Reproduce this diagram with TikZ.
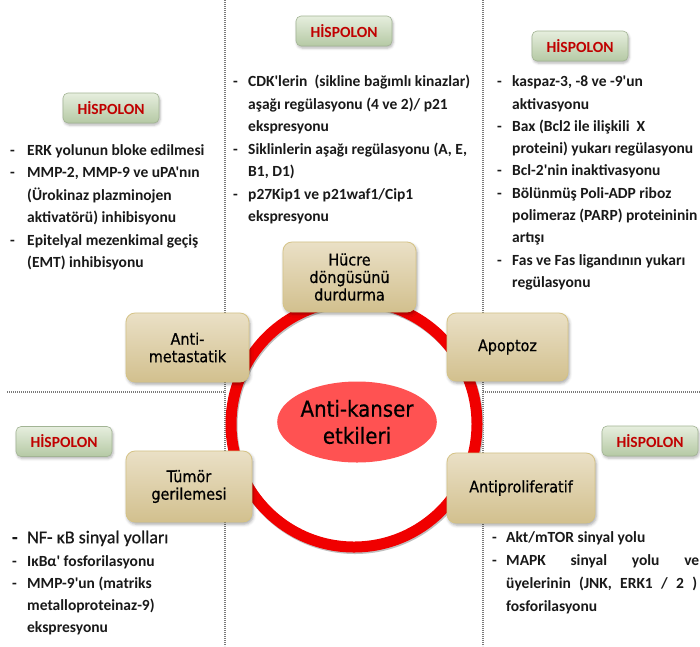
\documentclass[tikz,border=0pt]{standalone}
\usepackage{fontspec}
\setmainfont{Carlito}[Ligatures=TeXOff]
\newfontfamily\boxfont{DejaVu Sans Condensed}[RawFeature={embolden=0.6}]
\newfontfamily\nffont{Carlito}[Ligatures=TeXOff,RawFeature={embolden=0.8}]
\usetikzlibrary{shadows.blur,shapes.geometric}
\definecolor{boxtop}{HTML}{EAE0C6}
\definecolor{boxbot}{HTML}{D2C08E}
\definecolor{boxborder}{HTML}{D5C385}
\definecolor{badgetop}{HTML}{E6EEDE}
\definecolor{badgebot}{HTML}{B5C9A4}
\definecolor{badgeborder}{HTML}{A2B494}
\definecolor{hisred}{HTML}{C00000}
\definecolor{ringred}{HTML}{F00000}
\definecolor{ellred}{HTML}{FF5252}
\definecolor{dotgray}{HTML}{7A7A7A}
\begin{document}
\begin{tikzpicture}[x=1pt,y=-1pt,
  dotline/.style={draw=dotgray,line width=1.1pt,dash pattern=on 1.1pt off 0.9pt},
  effbox/.style={draw=boxborder,line width=0.8pt,top color=boxtop,bottom color=boxbot,
    rounded corners=9pt,align=center,inner sep=2pt,text=black,
    font=\boxfont\fontsize{16}{17.5}\selectfont,
    blur shadow={shadow xshift=1.2pt,shadow yshift=-2.2pt,shadow blur radius=3pt,shadow opacity=35}},
  badge/.style={draw=badgeborder,line width=0.6pt,top color=badgetop,bottom color=badgebot,
    rounded corners=5pt,minimum width=96pt,minimum height=30pt,inner sep=0pt,
    text=hisred,font=\fontsize{15.5}{18}\selectfont\bfseries,
    blur shadow={shadow xshift=1pt,shadow yshift=-2pt,shadow blur radius=2.5pt,shadow opacity=30}},
  lst/.style={anchor=north west,inner sep=0pt,text=black!90}
]
\useasboundingbox (0,0) rectangle (700,646);
% dotted separators
\coordinate (v1t) at (225,0);   \coordinate (v1b) at (225,646);
\coordinate (v2t) at (483,0);   \coordinate (v2b) at (483,646);
\coordinate (h1l) at (7,392);   \coordinate (h1r) at (225,392);
\coordinate (h2l) at (483,392); \coordinate (h2r) at (700,392);
\draw[dotline] (v1t) -- (v1b);
\draw[dotline] (v2t) -- (v2b);
\draw[dotline] (h1l) -- (h1r);
\draw[dotline] (h2l) -- (h2r);
% ring
\draw[black!25,line width=11pt] (355,425.5) circle[radius=123pt];
\draw[ringred,line width=11pt] (354,424) circle[radius=123pt];
% centre ellipse
\node[ellipse,fill=ellred,minimum width=158pt,minimum height=81pt,inner sep=0pt,align=center,
  font=\boxfont\fontsize{22}{27}\selectfont] (center) at (357,422) {Anti-kanser\\etkileri};
% effect boxes
\node[effbox,minimum width=133pt,minimum height=70pt] (hucre) at (349.5,277) {Hücre\\döngüsünü\\durdurma};
\node[effbox,minimum width=121pt,minimum height=68pt] (apop) at (507.5,347) {Apoptoz};
\node[effbox,minimum width=123pt,minimum height=69pt] (antimet) at (187.5,347.5) {Anti-\\metastatik};
\node[effbox,minimum width=126pt,minimum height=71pt] (tumor) at (189,486.5) {Tümör\\gerilemesi};
\node[effbox,minimum width=148pt,minimum height=70pt] (antipro) at (521,488) {Antiproliferatif};
% badges
\node[badge] (h1) at (111,108) {HİSPOLON};
\node[badge] (h2) at (344,31) {HİSPOLON};
\node[badge] (h3) at (580,46) {HİSPOLON};
\node[badge] (h4) at (64,441.5) {HİSPOLON};
\node[badge] (h5) at (650,441) {HİSPOLON};
% lists
\node[lst,font=\fontsize{15.5}{22.5}\selectfont\bfseries] (tl) at (10,139.3) {%
\begin{tabular}{@{}p{17pt}@{}l@{}}
-&ERK yolunun bloke edilmesi\\
-&MMP-2, MMP-9 ve uPA'nın\\
&(Ürokinaz plazminojen\\
&aktivatörü) inhibisyonu\\
-&Epitelyal mezenkimal geçiş\\
&(EMT) inhibisyonu
\end{tabular}};
\node[lst,font=\fontsize{15.5}{22.5}\selectfont\bfseries] (tm) at (233,70.8) {%
\begin{tabular}{@{}p{15pt}@{}l@{}}
-&CDK'lerin\ \ (sikline bağımlı kinazlar)\\
&aşağı regülasyonu (4 ve 2)/ p21\\
&ekspresyonu\\
-&Siklinlerin aşağı regülasyonu (A, E,\\
&B1, D1)\\
-&p27Kip1 ve p21waf1/Cip1\\
&ekspresyonu
\end{tabular}};
\node[lst,font=\fontsize{15.5}{22.3}\selectfont\bfseries] (tr) at (497,70.9) {%
\begin{tabular}{@{}p{15pt}@{}l@{}}
-&kaspaz-3, -8 ve -9'un\\
&aktivasyonu\\
-&Bax (Bcl2 ile ilişkili\ \ X\\
&proteini) yukarı regülasyonu\\
-&Bcl-2'nin inaktivasyonu\\
-&Bölünmüş Poli-ADP riboz\\
&polimeraz (PARP) proteininin\\
&artışı\\
-&Fas ve Fas ligandının yukarı\\
&regülasyonu
\end{tabular}};
\node[lst,font=\nffont\fontsize{18}{22}\selectfont] (bl1) at (12,527.6) {%
\begin{tabular}{@{}p{15pt}@{}l@{}}
\textbf{-}&NF- κB sinyal yolları
\end{tabular}};
\node[lst,font=\fontsize{15.5}{21.8}\selectfont\bfseries] (bl2) at (12,551.2) {%
\begin{tabular}{@{}p{15pt}@{}l@{}}
-&IκBα' fosforilasyonu\\
-&MMP-9'un (matriks\\
&metalloproteinaz-9)\\
&ekspresyonu
\end{tabular}};
\node[lst,font=\fontsize{15.5}{23}\selectfont\bfseries] (br) at (492,526.4) {%
\begin{tabular}{@{}p{14pt}@{}l@{}}
-&Akt/mTOR sinyal yolu\\
-&\hbox to 193pt{MAPK\hfill sinyal\hfill yolu\hfill ve}\\
&\hbox to 191pt{üyelerinin\hfill (JNK,\hfill ERK1\hfill /\hfill 2\hfill )}\\
&fosforilasyonu
\end{tabular}};
\end{tikzpicture}
\end{document}
